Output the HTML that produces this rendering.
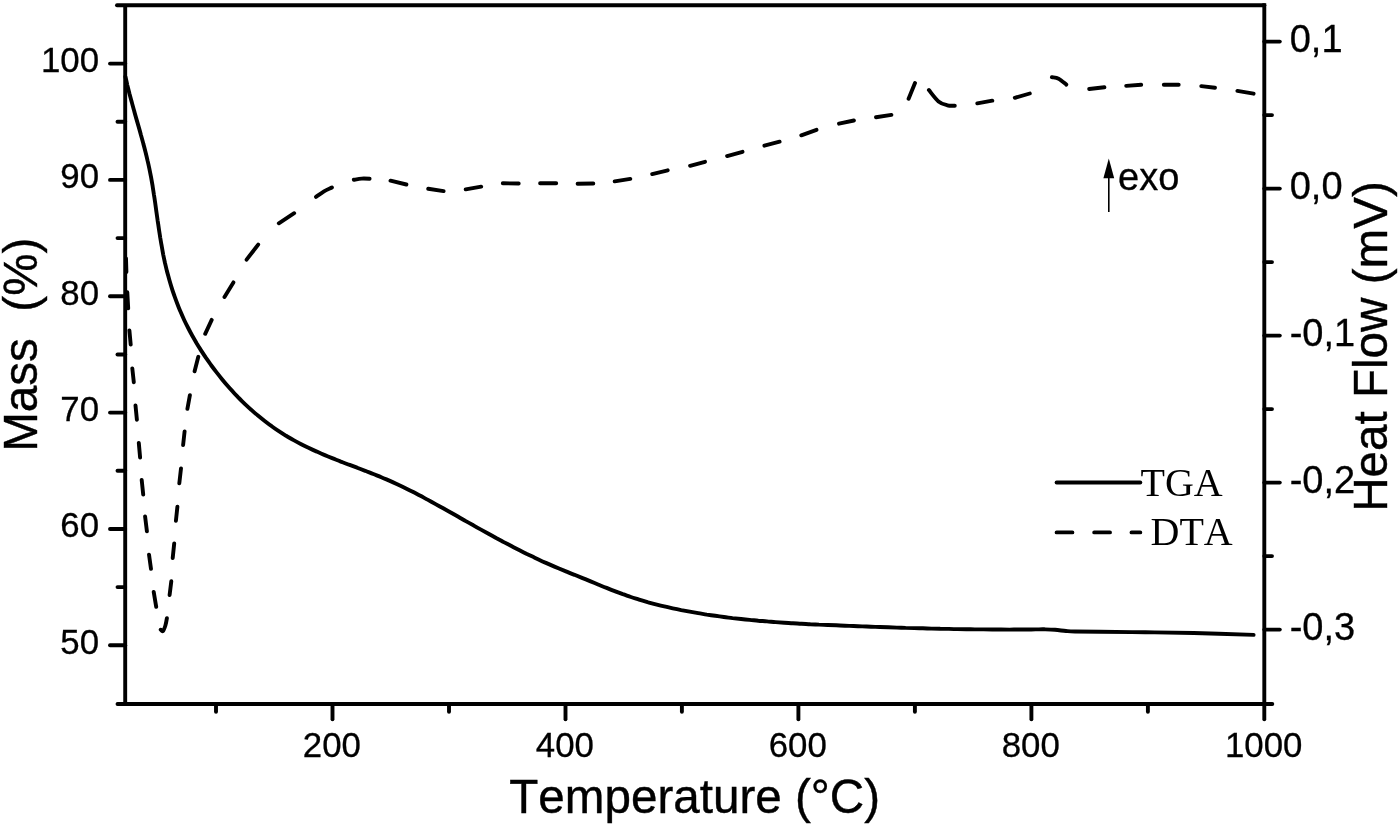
<!DOCTYPE html>
<html><head><meta charset="utf-8"><title>TGA / DTA</title>
<style>
html,body{margin:0;padding:0;background:#fff;}
body{width:1400px;height:826px;overflow:hidden;}
svg{display:block;}
text{font-kerning:none;font-family:"Liberation Sans",Arial,sans-serif;fill:#000;}
.serif{font-family:"Liberation Serif","Times New Roman",serif;}
.ax{stroke:#000;stroke-width:3.9;fill:none;stroke-linecap:round;}
.tl{font-size:34.8px;stroke:#000;stroke-width:0.3px;}
.tr{font-size:38px;stroke:#000;stroke-width:0.3px;}
.ttl{font-size:47.6px;stroke:#000;stroke-width:0.4px;}
</style></head><body>
<svg width="1400" height="826" viewBox="0 0 1400 826">
<rect width="1400" height="826" fill="#fff"/>

<g class="ax">
<line x1="125.2" y1="5.3" x2="125.2" y2="704.0" stroke-linecap="butt"/>
<line x1="1264.3" y1="3.3499999999999996" x2="1264.3" y2="704.0" stroke-linecap="butt"/>
<line x1="117" y1="5.3" x2="1264.3" y2="5.3"/>
<line x1="117.5" y1="704.0" x2="1272.3" y2="704.0"/>
<line x1="110" y1="645.3" x2="125.2" y2="645.3"/>
<line x1="110" y1="529.0" x2="125.2" y2="529.0"/>
<line x1="110" y1="412.6" x2="125.2" y2="412.6"/>
<line x1="110" y1="296.3" x2="125.2" y2="296.3"/>
<line x1="110" y1="179.9" x2="125.2" y2="179.9"/>
<line x1="110" y1="63.6" x2="125.2" y2="63.6"/>
<line x1="117.5" y1="587.1" x2="125.2" y2="587.1"/>
<line x1="117.5" y1="470.8" x2="125.2" y2="470.8"/>
<line x1="117.5" y1="354.5" x2="125.2" y2="354.5"/>
<line x1="117.5" y1="238.1" x2="125.2" y2="238.1"/>
<line x1="117.5" y1="121.8" x2="125.2" y2="121.8"/>
<line x1="1264.3" y1="41.6" x2="1279.8" y2="41.6"/>
<line x1="1264.3" y1="188.6" x2="1279.8" y2="188.6"/>
<line x1="1264.3" y1="335.6" x2="1279.8" y2="335.6"/>
<line x1="1264.3" y1="482.6" x2="1279.8" y2="482.6"/>
<line x1="1264.3" y1="629.6" x2="1279.8" y2="629.6"/>
<line x1="1264.3" y1="115.1" x2="1272" y2="115.1"/>
<line x1="1264.3" y1="262.1" x2="1272" y2="262.1"/>
<line x1="1264.3" y1="409.1" x2="1272" y2="409.1"/>
<line x1="1264.3" y1="556.1" x2="1272" y2="556.1"/>
<line x1="332.5" y1="704.0" x2="332.5" y2="719.2"/>
<line x1="565.5" y1="704.0" x2="565.5" y2="719.2"/>
<line x1="798.4" y1="704.0" x2="798.4" y2="719.2"/>
<line x1="1031.4" y1="704.0" x2="1031.4" y2="719.2"/>
<line x1="1264.3" y1="704.0" x2="1264.3" y2="719.2"/>
<line x1="216.0" y1="704.0" x2="216.0" y2="711.8"/>
<line x1="449.0" y1="704.0" x2="449.0" y2="711.8"/>
<line x1="681.9" y1="704.0" x2="681.9" y2="711.8"/>
<line x1="914.9" y1="704.0" x2="914.9" y2="711.8"/>
<line x1="1147.9" y1="704.0" x2="1147.9" y2="711.8"/>
</g>
<path class="ax" stroke-width="4.1" stroke-linejoin="round" d="M125.4,76.6C125.7,78.0 126.7,82.2 127.3,85.1C128.0,87.9 128.7,90.7 129.4,93.5C130.2,96.3 130.9,99.1 131.7,101.9C132.4,104.7 133.2,107.4 134.0,110.2C134.7,113.0 135.5,115.8 136.3,118.6C137.1,121.3 137.9,124.1 138.7,126.9C139.5,129.7 140.3,132.5 141.0,135.2C141.8,138.0 142.6,140.8 143.3,143.6C144.1,146.4 144.8,149.2 145.5,152.0C146.2,154.8 146.9,157.6 147.5,160.4C148.2,163.2 148.8,166.0 149.4,168.8C150.0,171.7 150.5,174.5 151.1,177.4C151.6,180.2 152.1,183.0 152.6,185.9C153.0,188.8 153.5,191.6 153.9,194.5C154.4,197.3 154.8,200.2 155.2,203.1C155.6,205.9 156.0,208.8 156.4,211.7C156.8,214.6 157.2,217.4 157.6,220.3C158.1,223.2 158.5,226.0 158.9,228.9C159.3,231.8 159.8,234.6 160.2,237.5C160.7,240.4 161.1,243.2 161.7,246.0C162.2,248.9 162.7,251.7 163.2,254.6C163.8,257.4 164.4,260.2 165.0,263.0C165.7,265.8 166.3,268.7 167.0,271.4C167.8,274.2 168.5,277.0 169.3,279.8C170.1,282.6 170.9,285.3 171.8,288.1C172.6,290.8 173.6,293.5 174.5,296.2C175.5,299.0 176.5,301.7 177.5,304.3C178.6,307.0 179.6,309.7 180.8,312.3C181.9,315.0 183.1,317.6 184.3,320.2C185.6,322.9 186.9,325.5 188.2,328.0C189.5,330.6 190.9,333.2 192.3,335.7C193.7,338.2 195.2,340.7 196.6,343.2C198.1,345.7 199.7,348.2 201.2,350.6C202.8,353.1 204.4,355.5 206.0,357.9C207.7,360.3 209.3,362.6 211.0,365.0C212.7,367.3 214.4,369.6 216.2,371.9C218.0,374.2 219.8,376.5 221.6,378.7C223.4,380.9 225.2,383.1 227.1,385.3C229.0,387.5 230.9,389.6 232.9,391.7C234.8,393.9 236.8,395.9 238.8,398.0C240.9,400.0 242.9,402.1 245.0,404.1C247.1,406.1 249.2,408.0 251.4,409.9C253.5,411.9 255.7,413.8 257.9,415.6C260.2,417.5 262.4,419.3 264.7,421.0C267.0,422.8 269.3,424.6 271.7,426.2C274.0,427.9 276.4,429.6 278.8,431.1C281.2,432.7 283.7,434.3 286.1,435.8C288.6,437.2 291.1,438.7 293.6,440.1C296.1,441.5 298.7,442.9 301.2,444.2C303.8,445.5 306.4,446.8 309.0,448.0C311.6,449.3 314.2,450.5 316.8,451.6C319.4,452.8 322.1,454.0 324.8,455.1C327.4,456.2 330.1,457.3 332.8,458.4C335.5,459.5 338.2,460.5 340.8,461.6C343.5,462.6 346.3,463.6 349.0,464.7C351.7,465.7 354.4,466.7 357.1,467.7C359.8,468.8 362.5,469.8 365.2,470.8C367.9,471.9 370.6,472.9 373.3,474.0C376.0,475.1 378.7,476.1 381.3,477.2C384.0,478.3 386.7,479.5 389.3,480.6C392.0,481.8 394.6,483.0 397.2,484.2C399.8,485.4 402.4,486.6 405.0,487.9C407.6,489.2 410.2,490.5 412.7,491.8C415.3,493.1 417.8,494.5 420.4,495.8C422.9,497.2 425.5,498.5 428.0,499.9C430.5,501.3 433.1,502.7 435.6,504.1C438.1,505.5 440.7,506.9 443.2,508.3C445.7,509.7 448.2,511.1 450.7,512.5C453.3,514.0 455.8,515.4 458.3,516.8C460.8,518.2 463.3,519.7 465.8,521.1C468.4,522.5 470.9,523.9 473.4,525.3C475.9,526.8 478.4,528.2 481.0,529.6C483.5,531.0 486.0,532.4 488.5,533.8C491.1,535.2 493.6,536.6 496.1,538.0C498.7,539.3 501.2,540.7 503.8,542.1C506.3,543.4 508.9,544.8 511.4,546.1C514.0,547.5 516.6,548.8 519.1,550.1C521.7,551.4 524.3,552.7 526.9,554.0C529.5,555.2 532.1,556.5 534.7,557.7C537.3,559.0 539.9,560.2 542.5,561.4C545.2,562.6 547.8,563.7 550.5,564.9C553.1,566.0 555.8,567.2 558.4,568.3C561.1,569.4 563.8,570.5 566.5,571.6C569.2,572.7 571.8,573.8 574.5,574.8C577.2,575.9 579.9,577.0 582.6,578.1C585.2,579.2 587.9,580.3 590.6,581.4C593.3,582.5 595.9,583.6 598.6,584.7C601.3,585.8 603.9,586.9 606.6,587.9C609.3,589.0 612.0,590.1 614.7,591.1C617.4,592.2 620.1,593.2 622.8,594.2C625.5,595.1 628.2,596.1 630.9,597.0C633.7,598.0 636.4,598.8 639.1,599.7C641.9,600.6 644.7,601.4 647.5,602.2C650.2,602.9 653.0,603.7 655.8,604.4C658.6,605.1 661.4,605.8 664.3,606.4C667.1,607.1 669.9,607.7 672.7,608.3C675.5,608.9 678.4,609.5 681.2,610.1C684.0,610.6 686.9,611.2 689.7,611.7C692.5,612.2 695.4,612.7 698.2,613.2C701.1,613.7 703.9,614.1 706.8,614.6C709.6,615.0 712.5,615.4 715.3,615.8C718.2,616.2 721.0,616.6 723.9,617.0C726.7,617.4 729.6,617.7 732.5,618.1C735.3,618.4 738.2,618.7 741.1,619.0C744.0,619.3 746.8,619.6 749.7,619.9C752.6,620.2 755.5,620.4 758.3,620.7C761.2,620.9 764.1,621.2 767.0,621.4C769.8,621.6 772.7,621.9 775.6,622.1C778.5,622.3 781.4,622.5 784.3,622.7C787.2,622.9 790.0,623.0 792.9,623.2C795.8,623.4 798.7,623.5 801.6,623.7C804.5,623.9 807.4,624.0 810.3,624.2C813.2,624.3 816.1,624.4 818.9,624.6C821.8,624.7 824.7,624.8 827.6,625.0C830.5,625.1 833.4,625.2 836.3,625.3C839.2,625.5 842.1,625.6 845.0,625.7C847.9,625.8 850.7,625.9 853.6,626.0C856.5,626.1 859.4,626.3 862.3,626.4C865.2,626.5 868.1,626.6 871.0,626.7C873.9,626.8 876.7,626.9 879.6,627.0C882.5,627.1 885.4,627.2 888.3,627.3C891.2,627.4 894.1,627.5 896.9,627.6C899.8,627.7 902.7,627.8 905.6,627.9C908.5,627.9 911.4,628.0 914.3,628.1C917.1,628.2 920.0,628.3 922.9,628.3C925.8,628.4 928.7,628.5 931.6,628.6C934.5,628.6 937.3,628.7 940.2,628.8C943.1,628.8 946.0,628.9 948.9,628.9C951.8,629.0 954.7,629.1 957.6,629.1C960.4,629.2 963.3,629.2 966.2,629.2C969.1,629.3 972.0,629.3 974.9,629.4C977.8,629.4 980.7,629.4 983.5,629.4C986.4,629.5 989.3,629.5 992.2,629.5C995.1,629.5 998.0,629.5 1000.9,629.5C1003.8,629.6 1006.7,629.6 1009.6,629.6C1012.5,629.6 1015.3,629.5 1018.2,629.5C1021.1,629.5 1024.0,629.5 1026.9,629.5C1029.8,629.5 1032.7,629.4 1035.6,629.4C1038.5,629.4 1041.1,629.2 1044.3,629.3C1047.5,629.4 1051.4,629.5 1055.0,629.8C1058.6,630.1 1062.7,630.7 1066.0,631.0C1069.3,631.3 1069.3,631.4 1075.0,631.5C1080.7,631.6 1088.3,631.7 1100.0,631.8C1111.7,631.9 1129.7,632.1 1145.3,632.3C1160.9,632.5 1175.7,632.6 1193.7,633.0C1211.8,633.4 1243.6,634.6 1253.6,634.9"/>
<path class="ax" stroke-width="4.1" stroke-linejoin="round" d="M126.0,258.4L126.4,271.9M127.3,292.3L128.2,308.3M129.4,330.4L130.7,344.6M132.3,368.4L133.8,382.2M135.5,405.5L136.9,419.7M138.8,443.0L140.1,457.5M141.7,480.0L143.2,494.5M145.1,516.4L146.9,531.3M149.0,554.6L151.0,568.9M153.7,591.9L156.2,606.9M160.7,629.7C161.0,629.9 162.2,631.8 163.0,631.1C163.8,630.4 164.7,627.7 165.4,625.5C166.1,623.3 166.7,619.3 166.9,618.1M169.6,595.0L171.3,581.3M172.7,558.0L174.2,543.5M175.9,520.9L177.4,506.7M179.3,483.4L181.0,468.4M183.1,445.1L184.6,431.4M187.4,408.8L189.9,395.1M194.6,371.3L198.3,356.8M205.2,333.8L211.7,319.9M224.5,297.0L233.4,282.4M246.6,259.6L258.2,244.6M278.8,223.3L294.2,213.2M316.0,196.9C317.3,196.0 321.4,192.9 324.0,191.3C326.6,189.7 330.6,188.2 331.9,187.5M353.8,179.8C355.1,179.6 359.1,178.8 361.7,178.6C364.3,178.4 368.3,178.7 369.6,178.8M390.5,180.7L406.4,184.5M428.2,188.8L443.6,191.1M465.7,189.4L481.2,186.6M502.8,183.3L518.7,183.5M540.1,183.3L556.2,183.3M577.6,183.8L593.3,183.5M614.7,181.4L630.3,178.9M652.2,174.1L667.7,170.3M690.1,165.8L705.0,161.8M727.1,156.1L742.5,151.8M764.4,145.7L779.6,141.7M801.3,135.3L816.5,129.8M839.0,123.7L853.9,120.5M876.0,117.2L891.4,114.9M908.6,98.8L915.0,83.0M928.9,90.1C930.5,92.0 935.4,98.9 938.5,101.4C941.6,103.9 944.6,104.6 947.3,105.3C950.0,106.0 953.6,105.7 954.8,105.7M977.3,103.4L992.3,100.7M1014.8,97.8L1029.8,93.5M1051.9,77.2C1053.0,77.5 1056.2,77.5 1058.6,78.7C1061.0,79.9 1065.0,83.6 1066.3,84.6M1089.2,89.0L1104.4,87.3M1126.2,85.9L1141.2,84.8M1163.8,84.7L1178.7,84.7M1201.3,86.1L1215.0,87.8M1237.4,90.9L1253.6,93.7"/>
<line class="ax" x1="1056.6" y1="482.5" x2="1140.3" y2="482.5"/>
<path class="ax" d="M1056.6,532.4H1072.4M1094.2,532.4H1110M1131.5,532.4H1140.3"/>
<text class="serif" x="1140.5" y="495.6" font-size="40">TGA</text>
<text class="serif" x="1150.5" y="544.6" font-size="40">DTA</text>
<line x1="1108.8" y1="170" x2="1108.8" y2="211.9" stroke="#000" stroke-width="1.6"/>
<polygon points="1108.8,158.4 1114.2,178.2 1103.4,178.2" fill="#000"/>
<text x="1118" y="189.8" font-size="38" stroke="#000" stroke-width="0.3">exo</text>
<text class="tl" text-anchor="end" x="99" y="653.7">50</text>
<text class="tl" text-anchor="end" x="99" y="537.4">60</text>
<text class="tl" text-anchor="end" x="99" y="421.0">70</text>
<text class="tl" text-anchor="end" x="99" y="304.7">80</text>
<text class="tl" text-anchor="end" x="99" y="188.3">90</text>
<text class="tl" text-anchor="end" x="99" y="72.0">100</text>
<text class="tl" text-anchor="middle" x="331.9" y="756.6">200</text>
<text class="tl" text-anchor="middle" x="564.9" y="756.6">400</text>
<text class="tl" text-anchor="middle" x="797.8" y="756.6">600</text>
<text class="tl" text-anchor="middle" x="1030.8" y="756.6">800</text>
<text class="tl" text-anchor="middle" x="1263.7" y="756.6">1000</text>
<text class="tr" x="1289.7" y="52.0">0,1</text>
<text class="tr" x="1289.7" y="199.0">0,0</text>
<text class="tr" x="1289.7" y="346.0">-0,1</text>
<text class="tr" x="1289.7" y="493.0">-0,2</text>
<text class="tr" x="1289.7" y="640.0">-0,3</text>
<text class="ttl" x="509.3" y="812.9">Temperature (°C)</text>
<text class="ttl" transform="translate(37.2,451.8) rotate(-90)" style="white-space:pre">Mass  (%)</text>
<text class="ttl" transform="translate(1387.1,511.8) rotate(-90)">Heat Flow (mV)</text>
</svg></body></html>
